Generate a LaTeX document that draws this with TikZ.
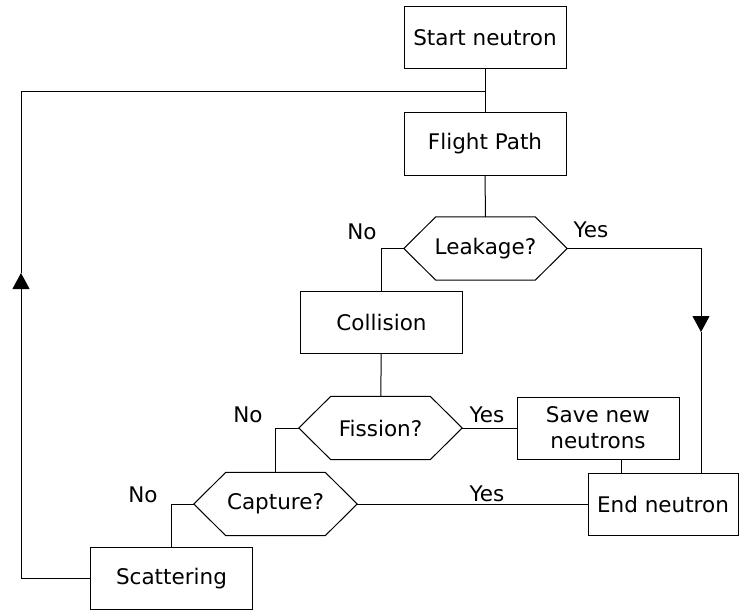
\documentclass[tikz,border=0pt]{standalone}
\usepackage{fontspec}
\setmainfont{DejaVu Sans}
\usetikzlibrary{arrows.meta}

\begin{document}
\begin{tikzpicture}
[x=1pt,y=-1pt,
  lineDecorate/.style={-,line width=1pt},
  arrowDecorate/.style={lineDecorate,-{Triangle[length=16pt,width=17pt]}},
  boxDecorate/.style={shape=rectangle,draw,line width=1pt,minimum width=162pt,minimum height=62pt,inner sep=2pt,align=center},
  hexDecorate/.style={shape=rectangle,minimum width=163pt,minimum height=63pt,inner sep=0pt,
    append after command={\pgfextra{\draw[line width=1pt] (\tikzlastnode.west)
      -- ([xshift=32pt]\tikzlastnode.north west) -- ([xshift=-32pt]\tikzlastnode.north east)
      -- (\tikzlastnode.east) -- ([xshift=-32pt]\tikzlastnode.south east)
      -- ([xshift=32pt]\tikzlastnode.south west) -- cycle;}}},
  labelDecorate/.style={inner sep=0pt}]
\fontsize{21.5}{26}\selectfont
\useasboundingbox (0,0) rectangle (740,610);
%% boxes
\foreach \nodename/\x/\y/\txt in {
  start/485/38/Start neutron,
  flight/485/144/Flight Path,
  collision/381.5/322.5/Collision,
  save/598/428/{Save new\\neutrons},
  scatter/171.5/578.5/Scattering}
{
  \node (\nodename) at (\x,\y) [boxDecorate] {\txt};
}
\node (endn) at (663,504) [boxDecorate,minimum width=150pt] {End neutron};
%% decisions
\foreach \nodename/\x/\y/\txt in {
  leak/485.5/248.5/Leakage?,
  fission/380.5/428/Fission?,
  capture/275.5/504/Capture?}
{
  \node (\nodename) at (\x,\y) [hexDecorate] {\txt};
}
%% answers
\foreach \nodename/\x/\y/\txt in {
  leakno/362/232/No, leakyes/591/230/Yes,
  fissionno/248/415/No, fissionyes/487/415/Yes,
  captureno/143/495/No, captureyes/487/494/Yes}
{
  \node (\nodename) at (\x,\y) [labelDecorate] {\txt};
}
\coordinate (leftup) at (21,273);
\coordinate (leftturn) at (21,92);
\coordinate (rightdown) at (701,332);
%% lines
\path
\foreach \startnode/\endnode in {
  start/flight, flight/leak, collision/fission, fission/save, capture/endn}
{
  (\startnode) edge[lineDecorate] (\endnode)
};
\draw[lineDecorate] (leak.west) -| (collision.north);
\draw[lineDecorate] (fission.west) -| (capture.north);
\draw[lineDecorate] (capture.west) -| (scatter.north);
\draw[lineDecorate] ([xshift=23pt]save.south) -- ([xshift=23pt]save.south |- endn.north);
\draw[arrowDecorate] (leak.east) -| (rightdown);
\draw[lineDecorate] (rightdown) -- (rightdown |- endn.north);
\draw[arrowDecorate] (scatter.west) -| (leftup);
\draw[lineDecorate] (leftup) -- (leftturn) -- (leftturn -| start.south);
\end{tikzpicture}
\end{document}
